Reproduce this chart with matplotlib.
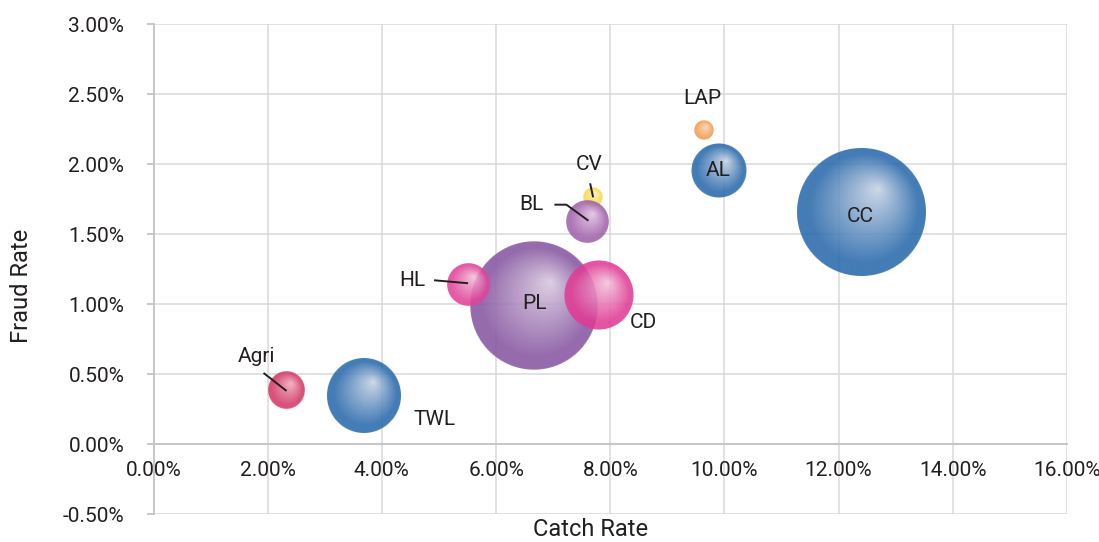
import numpy as np
import matplotlib
matplotlib.use("Agg")
import matplotlib.pyplot as plt
from matplotlib.ticker import PercentFormatter, FixedLocator
from matplotlib.colors import to_rgb

# ---- data -------------------------------------------------------------
products = ["CC", "PL", "TWL", "CD", "AL", "HL", "CV", "BL", "LAP", "Agri"]
catch_rate = [0.1240, 0.0667, 0.0369, 0.0780, 0.0990, 0.0551, 0.0770, 0.0760, 0.0964, 0.0233]
fraud_rate = [0.01655, 0.00989, 0.00341, 0.01064, 0.01957, 0.01141, 0.01762, 0.01588, 0.02243, 0.00379]
bubble_size = [100.0, 99.0, 33.4, 29.1, 17.8, 11.1, 2.3, 11.1, 2.3, 8.2]

x_ticks = [0.00, 0.02, 0.04, 0.06, 0.08, 0.10, 0.12, 0.14, 0.16]
y_ticks = [-0.005, 0.000, 0.005, 0.010, 0.015, 0.020, 0.025, 0.030]

# ---- styling ----------------------------------------------------------
plt.rcParams["font.family"] = ["Roboto", "DejaVu Sans"]
plt.rcParams["axes.unicode_minus"] = False
TEXT = "#231F20"
GRID = "#D9D9D9"
AXIS = "#C4C4C4"

# (edge colour, highlight colour) of each sphere
palette = {
    "CC": ("#2A6AAC", "#C9D4E5"),
    "AL": ("#2A6AAC", "#C9D4E5"),
    "TWL": ("#2A6AAC", "#C9D4E5"),
    "PL": ("#8757A2", "#DACAE0"),
    "BL": ("#A262AB", "#E0C4E2"),
    "CD": ("#E03C96", "#F3C6DD"),
    "HL": ("#E1449A", "#F2C2DB"),
    "Agri": ("#D43866", "#F0ABC0"),
    "LAP": ("#F39C55", "#FBD5B3"),
    "CV": ("#F5DA52", "#FCF1B2"),
}

# label offsets from the bubble centre, in pixels (x right, y down)
label_offset = {
    "CC": (-1, 4), "PL": (0, -2), "TWL": (70, 23), "CD": (45, 27),
    "AL": (-1, 0), "HL": (-56, -4), "CV": (-4, -33), "BL": (-56, -17),
    "LAP": (-2, -31), "Agri": (-30, -34),
}
# leader lines, in pixel offsets from the bubble centre
leaders = {
    "Agri": [(-23, -18), (0, 0)],
    "CV": [(-3, -14), (0, 0)],
    "BL": [(-33, -17), (-21, -17), (1, -1)],
    "HL": [(-34, -4), (0, -1)],
}

MAX_R_PX = 64.0   # radius of a bubble of size 100
ALPHA = 0.88
FOCUS = (0.26, 0.37)  # highlight position as a fraction of the radius

fig = plt.figure(figsize=(10.99, 5.42), dpi=100)
ax = fig.add_axes([153.5 / 1099, 1 - 514 / 542, (1067 - 153.5) / 1099, (514 - 24) / 542])

ax.set_xlim(x_ticks[0], x_ticks[-1])
ax.set_ylim(y_ticks[0], y_ticks[-1])
ax.xaxis.set_major_locator(FixedLocator(x_ticks))
ax.yaxis.set_major_locator(FixedLocator(y_ticks))
ax.xaxis.set_major_formatter(PercentFormatter(xmax=1, decimals=2))
ax.yaxis.set_major_formatter(PercentFormatter(xmax=1, decimals=2))

ax.set_axisbelow(True)
ax.grid(True, color=GRID, linewidth=1.1)
for side in ("top", "right"):
    ax.spines[side].set_visible(False)
ax.spines["bottom"].set_position(("data", 0))
ax.spines["bottom"].set_color(AXIS)
ax.spines["bottom"].set_linewidth(1.3)
ax.spines["left"].set_color(AXIS)
ax.spines["left"].set_linewidth(1.3)
ax.tick_params(axis="x", length=0, pad=12, labelsize=15, labelcolor=TEXT)
ax.tick_params(axis="y", length=5, width=1.3, color=AXIS, direction="out",
               pad=16, labelsize=15, labelcolor=TEXT)


def sphere_image(r_px, edge, light):
    """RGBA image of a shaded sphere with a soft antialiased rim."""
    n = int(np.ceil(2 * r_px)) + 4
    c = (n - 1) / 2.0
    yy, xx = np.mgrid[0:n, 0:n].astype(float)
    dx = xx - c
    dy = c - yy
    d = np.hypot(dx, dy)
    hx, hy = FOCUS[0] * r_px, FOCUS[1] * r_px
    qx, qy = dx - hx, dy - hy
    qh = qx * hx + qy * hy
    q2 = qx ** 2 + qy ** 2
    k = r_px ** 2 - (hx ** 2 + hy ** 2)
    s = (qh + np.sqrt(qh ** 2 + k * q2)) / k
    g = np.clip(s * 1.18, 0, 1) ** 0.95
    e = np.array(to_rgb(edge))
    l = np.array(to_rgb(light))
    rgb = l * (1 - g)[..., None] + e * g[..., None]
    a = np.clip(r_px - d + 0.5, 0, 1) * ALPHA
    return np.dstack([rgb, a]), n


to_disp = ax.transData.transform
to_data = ax.transData.inverted().transform

for name, x, y, size in zip(products, catch_rate, fraud_rate, bubble_size):
    r_px = MAX_R_PX * np.sqrt(size / 100.0)
    img, n = sphere_image(r_px, *palette[name])
    cx, cy = to_disp((x, y))
    (x0, y0) = to_data((cx - n / 2, cy - n / 2))
    (x1, y1) = to_data((cx + n / 2, cy + n / 2))
    ax.imshow(img, extent=[x0, x1, y0, y1], origin="upper",
              interpolation="bilinear", zorder=3, aspect="auto")

# keep the axes limits fixed after placing the images
ax.set_xlim(x_ticks[0], x_ticks[-1])
ax.set_ylim(y_ticks[0], y_ticks[-1])

for name, x, y in zip(products, catch_rate, fraud_rate):
    cx, cy = to_disp((x, y))
    if name in leaders:
        pts = np.array([to_data((cx + px, cy - py)) for px, py in leaders[name]])
        ax.plot(pts[:, 0], pts[:, 1], color=TEXT, lw=1.4, zorder=4,
                solid_capstyle="butt")
    ox, oy = label_offset[name]
    ax.annotate(name, xy=(x, y), xytext=(ox, -oy), textcoords="offset pixels",
                ha="center", va="center", fontsize=15, color=TEXT, zorder=5)

fig.text(591 / 1099, 1 - 530 / 542, "Catch Rate", ha="center", va="center",
         fontsize=17, color=TEXT)
fig.text(22 / 1099, 1 - 286 / 542, "Fraud Rate", ha="center", va="center",
         rotation=90, fontsize=17, color=TEXT)

fig.savefig("out.png", dpi=100)
